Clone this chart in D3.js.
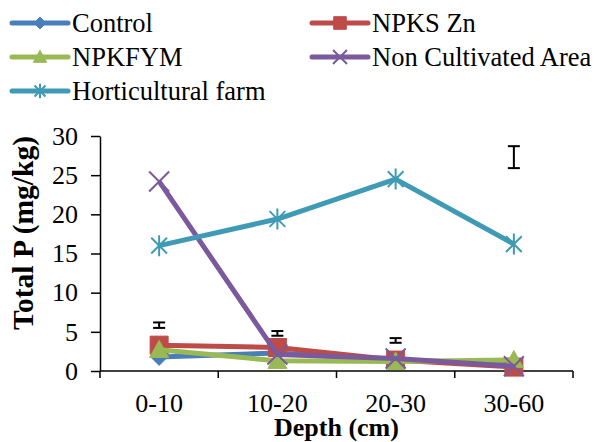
<!DOCTYPE html>
<html>
<head>
<meta charset="utf-8">
<script src="https://cdn.jsdelivr.net/npm/d3@7"></script>
<style>
  body { margin: 0; background: #fff; }
</style>
</head>
<body>
<svg id="chart" width="595" height="442"></svg>
<script>
const depths = ['0-10', '10-20', '20-30', '30-60'];
const seriesNames = ['Control', 'NPKS Zn', 'NPKFYM', 'Non Cultivated Area', 'Horticultural farm'];
const control = [1.8, 2.3, 1.4, 0.9];
const npksZn = [3.3, 3.0, 1.4, 0.5];
const npkfym = [2.7, 1.3, 1.2, 1.4];
const nonCultivated = [24.2, 2.1, 1.6, 0.6];
const horticultural = [16.0, 19.4, 24.5, 16.2];
const errLow = [5.5, 4.5, 3.6, 25.9];
const errHigh = [6.2, 5.1, 4.2, 28.7];
const yTicks = [0, 5, 10, 15, 20, 25, 30];

const colors = ['#4a7ebb', '#be4b48', '#98b954', '#7a5a9c', '#3f9bb5'];
const serif = 'Liberation Serif, Times New Roman, serif';

// custom marker shapes, size = half width
const diamond = { draw(c, r) { c.moveTo(0, -r); c.lineTo(r, 0); c.lineTo(0, r); c.lineTo(-r, 0); c.closePath(); } };
const square = { draw(c, r) { c.rect(-r, -r, 2 * r, 2 * r); } };
const triangle = { draw(c, r) { c.moveTo(0, -r); c.lineTo(r, r * 0.8); c.lineTo(-r, r * 0.8); c.closePath(); } };
const cross = { draw(c, r) { c.moveTo(-r, -r); c.lineTo(r, r); c.moveTo(r, -r); c.lineTo(-r, r); } };
const star = { draw(c, r) { cross.draw(c, r * 0.75); c.moveTo(0, -r); c.lineTo(0, r); } };

const series = [
  { name: seriesNames[0], values: control, color: colors[0], shape: diamond, size: 8.5, filled: true },
  { name: seriesNames[1], values: npksZn, color: colors[1], shape: square, size: 9, filled: true },
  { name: seriesNames[2], values: npkfym, color: colors[2], shape: triangle, size: 9.5, filled: true },
  { name: seriesNames[3], values: nonCultivated, color: colors[3], shape: cross, size: 10, filled: false },
  { name: seriesNames[4], values: horticultural, color: colors[4], shape: star, size: 10.5, filled: false }
];

const svg = d3.select('#chart');
const plotLeft = 100, plotRight = 573, plotTop = 136, plotBottom = 371;

const x = d3.scalePoint().domain(depths).range([plotLeft, plotRight]).padding(0.5);
const xBand = d3.scaleBand().domain(depths).range([plotLeft, plotRight]);
const y = d3.scaleLinear().domain([0, 30]).range([plotBottom, plotTop]);

// y axis
const yAxis = svg.append('g')
  .attr('transform', `translate(${plotLeft},0)`)
  .call(d3.axisLeft(y).tickValues(yTicks).tickSize(9).tickSizeOuter(0).tickPadding(13));
yAxis.select('.domain').attr('stroke-width', 1.5);
yAxis.selectAll('.tick line').attr('stroke-width', 1.5);
yAxis.selectAll('text').style('font-family', serif).style('font-size', '26px').attr('fill', '#000');

// x axis
const xAxis = svg.append('g').attr('transform', `translate(0,${plotBottom})`);
xAxis.append('line')
  .attr('x1', plotLeft).attr('x2', plotRight)
  .attr('stroke', '#000').attr('stroke-width', 1.5);
const bounds = depths.map(d => xBand(d)).concat([xBand(depths[depths.length - 1]) + xBand.bandwidth()]);
xAxis.selectAll('.xtick').data(bounds).enter().append('line')
  .attr('x1', d => d).attr('x2', d => d)
  .attr('y1', 0).attr('y2', 7)
  .attr('stroke', '#000').attr('stroke-width', 1.5);
xAxis.selectAll('.xlabel').data(depths).enter().append('text')
  .attr('x', d => x(d)).attr('y', 41)
  .attr('text-anchor', 'middle')
  .style('font-family', serif).style('font-size', '26px')
  .text(d => d);

// axis titles
svg.append('text')
  .attr('x', (plotLeft + plotRight) / 2).attr('y', 436)
  .attr('text-anchor', 'middle')
  .style('font-family', serif).style('font-size', '26px').style('font-weight', 'bold')
  .text('Depth (cm)');
svg.append('text')
  .attr('transform', 'translate(33,233) rotate(-90)')
  .attr('text-anchor', 'middle')
  .style('font-family', serif).style('font-size', '29.5px').style('font-weight', 'bold')
  .text('Total P (mg/kg)');

// series lines and markers
const line = d3.line().x((d, i) => x(depths[i])).y(d => y(d));
series.forEach(s => {
  const g = svg.append('g');
  g.append('path')
    .attr('d', line(s.values))
    .attr('fill', 'none').attr('stroke', s.color)
    .attr('stroke-width', 5).attr('stroke-linejoin', 'round');
  g.selectAll('.m').data(s.values).enter().append('path')
    .attr('transform', (d, i) => `translate(${x(depths[i])},${y(d)})`)
    .attr('d', d3.symbol().type(s.shape).size(s.size))
    .attr('fill', s.filled ? s.color : 'none')
    .attr('stroke', s.color)
    .attr('stroke-width', s.filled ? 1 : 2);
});

// error bars
const eb = svg.append('g').attr('stroke', '#000').attr('stroke-width', 2);
depths.forEach((d, i) => {
  const cx = x(d);
  eb.append('line').attr('x1', cx).attr('x2', cx).attr('y1', y(errLow[i])).attr('y2', y(errHigh[i]));
  eb.append('line').attr('x1', cx - 6).attr('x2', cx + 6).attr('y1', y(errLow[i])).attr('y2', y(errLow[i]));
  eb.append('line').attr('x1', cx - 6).attr('x2', cx + 6).attr('y1', y(errHigh[i])).attr('y2', y(errHigh[i]));
});

// legend
const legendPos = [[12, 23], [312, 23], [12, 57], [312, 57], [12, 91]];
series.forEach((s, i) => {
  const [lx, ly] = legendPos[i];
  const g = svg.append('g').attr('transform', `translate(${lx},${ly})`);
  g.append('line').attr('x1', 0).attr('x2', 56)
    .attr('stroke', s.color).attr('stroke-width', 5).attr('stroke-linecap', 'round');
  g.append('path')
    .attr('transform', 'translate(28,0)')
    .attr('d', d3.symbol().type(s.shape).size(s.size * 0.7))
    .attr('fill', s.filled ? s.color : 'none')
    .attr('stroke', s.color).attr('stroke-width', s.filled ? 1 : 2);
  g.append('text').attr('x', 60).attr('y', 0).attr('dy', '0.33em')
    .style('font-family', serif).style('font-size', '26.5px')
    .text(s.name);
});
</script>
</body>
</html>
